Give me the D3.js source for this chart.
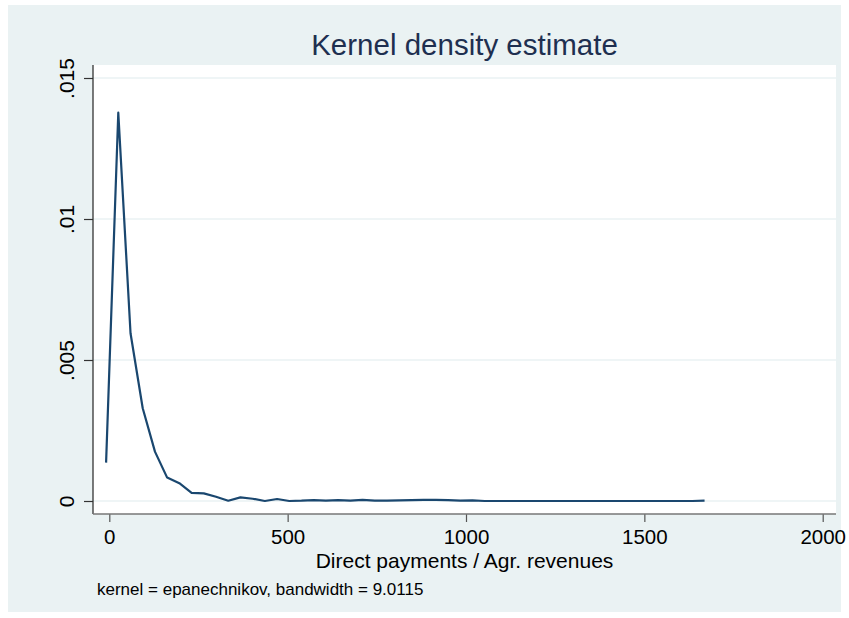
<!DOCTYPE html>
<html>
<head>
<meta charset="utf-8">
<script src="https://cdn.jsdelivr.net/npm/d3@7"></script>
<style>
  html, body { margin: 0; padding: 0; background: #ffffff; }
  svg { display: block; }
  text { font-family: "Liberation Sans", Arial, Helvetica, sans-serif; }
</style>
</head>
<body>
<svg id="chart" width="849" height="618"></svg>
<script>
// Evaluation points of the density estimate (Direct payments / Agr. revenues)
const gridX = [
  -9.0, 25.2, 59.5, 93.7, 128.0, 162.2, 196.4, 230.7, 264.9, 299.2,
  333.4, 367.6, 401.9, 436.1, 470.4, 504.6, 538.8, 573.1, 607.3, 641.6,
  675.8, 710.0, 744.3, 778.5, 812.8, 847.0, 881.2, 915.5, 949.7, 984.0,
  1018.2, 1052.4, 1086.7, 1120.9, 1155.2, 1189.4, 1223.6, 1257.9, 1292.1, 1326.4,
  1360.6, 1394.8, 1429.1, 1463.3, 1497.6, 1531.8, 1566.0, 1600.3, 1634.5, 1668.8
];
// Estimated density at each point
const density = [
  0.00136, 0.01377, 0.00595, 0.00329, 0.00175, 0.00083, 0.00063, 0.00029, 0.00027, 0.00015,
  0.00001, 0.00013, 0.00008, 0.00000, 0.00007, 0.00000, 0.00001, 0.00003, 0.00001, 0.00003,
  0.00001, 0.00004, 0.00001, 0.00001, 0.00002, 0.00003, 0.00004, 0.00004, 0.00003, 0.00001,
  0.00002, 0.00000, 0.00000, 0.00000, 0.00000, 0.00000, 0.00000, 0.00000, 0.00000, 0.00000,
  0.00000, 0.00000, 0.00000, 0.00000, 0.00000, 0.00000, 0.00000, 0.00000, 0.00000, 0.00001
];
const xTicks = [0, 500, 1000, 1500, 2000];
const yTicks = [0, 0.005, 0.01, 0.015];
const yTickLabels = ["0", ".005", ".01", ".015"];

const titleText = "Kernel density estimate";
const xTitle = "Direct payments / Agr. revenues";
const noteText = "kernel = epanechnikov, bandwidth = 9.0115";

const svg = d3.select("#chart");
const font = '"Liberation Sans", Arial, Helvetica, sans-serif';

// Graph region and plot region
const outer = { x0: 8, y0: 5, x1: 841, y1: 612 };
const plot = { x0: 93, y0: 65, x1: 836, y1: 514 };

svg.append("rect")
  .attr("x", outer.x0).attr("y", outer.y0)
  .attr("width", outer.x1 - outer.x0).attr("height", outer.y1 - outer.y0)
  .attr("fill", "#eaf2f3");

svg.append("rect")
  .attr("x", plot.x0).attr("y", plot.y0)
  .attr("width", plot.x1 - plot.x0).attr("height", plot.y1 - plot.y0)
  .attr("fill", "#ffffff");

const x = d3.scaleLinear().domain([0, 2000]).range([109.3, 822.7]);
const y = d3.scaleLinear().domain([0, 0.015]).range([501, 78]);

// Horizontal grid lines
svg.append("g")
  .selectAll("line")
  .data(yTicks)
  .join("line")
  .attr("x1", plot.x0).attr("x2", plot.x1)
  .attr("y1", d => y(d)).attr("y2", d => y(d))
  .attr("stroke", "#eaf2f3")
  .attr("stroke-width", 1.6);

// Y axis
const yAxis = d3.axisLeft(y)
  .tickValues(yTicks)
  .tickSize(9)
  .tickPadding(10)
  .tickFormat((d, i) => yTickLabels[i]);

const gy = svg.append("g")
  .attr("transform", `translate(${plot.x0},0)`)
  .call(yAxis);
gy.select(".domain").remove();
gy.selectAll(".tick line").attr("stroke", "#333333").attr("stroke-width", 1.2);
gy.selectAll(".tick text")
  .attr("font-family", font)
  .attr("font-size", 21)
  .attr("fill", "#000000")
  .attr("text-anchor", "middle")
  .attr("dy", null)
  .attr("x", null)
  .attr("transform", "translate(-19,0) rotate(-90)");
gy.append("line")
  .attr("x1", 0).attr("x2", 0)
  .attr("y1", plot.y0).attr("y2", plot.y1)
  .attr("stroke", "#333333").attr("stroke-width", 1.3);

// X axis
const xAxis = d3.axisBottom(x)
  .tickValues(xTicks)
  .tickSize(8)
  .tickPadding(8)
  .tickFormat(d3.format("d"));

const gx = svg.append("g")
  .attr("transform", `translate(0,${plot.y1})`)
  .call(xAxis);
gx.select(".domain").remove();
gx.selectAll(".tick line").attr("stroke", "#555555").attr("stroke-width", 1.2);
gx.selectAll(".tick text")
  .attr("font-family", font)
  .attr("font-size", 20.5)
  .attr("fill", "#000000")
  .attr("dy", null)
  .attr("y", 30);
gx.append("line")
  .attr("x1", plot.x0).attr("x2", plot.x1)
  .attr("y1", 0).attr("y2", 0)
  .attr("stroke", "#777777").attr("stroke-width", 1.6);

// Density curve
const line = d3.line()
  .x((d, i) => x(gridX[i]))
  .y(d => y(d));

svg.append("path")
  .datum(density)
  .attr("d", line)
  .attr("fill", "none")
  .attr("stroke", "#1a476f")
  .attr("stroke-width", 2.2)
  .attr("stroke-linejoin", "round");

// Titles and note
svg.append("text")
  .attr("x", (plot.x0 + plot.x1) / 2).attr("y", 55)
  .attr("text-anchor", "middle")
  .attr("font-family", font)
  .attr("font-size", 29.5)
  .attr("fill", "#1e2f50")
  .text(titleText);

svg.append("text")
  .attr("x", (plot.x0 + plot.x1) / 2).attr("y", 568)
  .attr("text-anchor", "middle")
  .attr("font-family", font)
  .attr("font-size", 21)
  .attr("fill", "#000000")
  .text(xTitle);

svg.append("text")
  .attr("x", 97).attr("y", 595)
  .attr("font-family", font)
  .attr("font-size", 17)
  .attr("fill", "#000000")
  .text(noteText);
</script>
</body>
</html>
